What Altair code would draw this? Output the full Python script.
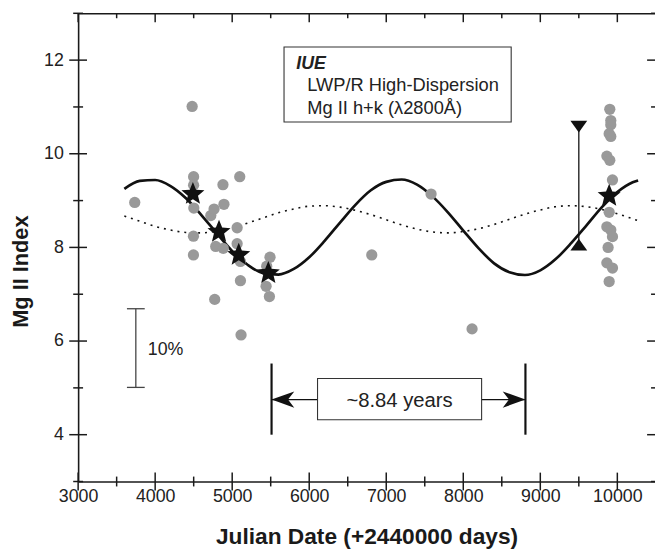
import altair as alt
import pandas as pd

FONT = "Liberation Sans"

# ---- observations (grey dots) ----
obs_day = [3735, 4480, 4499, 4499, 4502, 4497, 4497, 4722, 4765, 4773, 4786, 4880, 4884, 4893,
           5064, 5064, 5098, 5107, 5107, 5115, 5491, 5448, 5440, 5483, 6812, 7582, 8114,
           9902, 9915, 9915, 9894, 9915, 9864, 9902, 9937, 9894, 9864, 9915, 9937, 9880,
           9864, 9937, 9894]
obs_idx = [8.96, 11.01, 9.51, 9.33, 8.84, 8.24, 7.84, 8.68, 8.82, 6.89, 8.02, 9.34, 7.98, 8.92,
           8.42, 8.08, 9.51, 7.70, 7.29, 6.13, 7.79, 7.60, 7.17, 6.95, 7.84, 9.14, 6.26,
           10.95, 10.71, 10.62, 10.43, 10.37, 9.95, 9.86, 9.44, 8.75, 8.44, 8.37, 8.23, 8.00,
           7.67, 7.56, 7.27]

# ---- seasonal means (stars) ----
star_day = [4490, 4829, 5085, 5469, 9894]
star_idx = [9.14, 8.33, 7.84, 7.45, 9.10]

# ---- curves ----
curve_day = [3600, 3800, 4000, 4200, 4400, 4600, 4800, 5000, 5200, 5400, 5600, 5800, 6000,
             6200, 6400, 6600, 6800, 7000, 7200, 7400, 7600, 7800, 8000, 8200, 8400, 8600,
             8800, 9000, 9200, 9400, 9600, 9800, 10000, 10200, 10270]
solid_idx = [9.25, 9.42, 9.44, 9.31, 9.05, 8.69, 8.30, 7.92, 7.63, 7.45, 7.42, 7.54, 7.79,
             8.14, 8.53, 8.91, 9.22, 9.40, 9.45, 9.34, 9.09, 8.75, 8.36, 7.98, 7.66, 7.47,
             7.41, 7.51, 7.75, 8.09, 8.47, 8.86, 9.18, 9.39, 9.43]
dotted_idx = [8.67, 8.56, 8.45, 8.37, 8.32, 8.31, 8.35, 8.42, 8.52, 8.63, 8.74, 8.82, 8.88,
              8.89, 8.86, 8.79, 8.70, 8.59, 8.48, 8.39, 8.33, 8.31, 8.34, 8.40, 8.49, 8.60,
              8.71, 8.80, 8.87, 8.89, 8.87, 8.81, 8.72, 8.61, 8.57]

# ---- range bar with triangles ----
range_day = [9500]
range_lo = [8.06]
range_hi = [10.58]

# ---- 10% scale bar ----
scale_day = [3749]
scale_lo = [5.01]
scale_hi = [6.69]
scale_text = ["10%"]
scale_text_day = [3905]
scale_text_idx = [5.70]

# ---- period annotation ----
period_day = [5511, 8807]
period_lo = [4.0, 4.0]
period_hi = [5.52, 5.52]
arrow_idx = [4.75]
pbox_day = [6108]
pbox_day2 = [8238]
pbox_lo = [4.32]
pbox_hi = [5.20]
ptext = ["~8.84 years"]
ptext_day = [7173]
ptext_idx = [4.60]

# ---- legend box ----
lbox_day = [5673]
lbox_day2 = [8622]
lbox_lo = [10.68]
lbox_hi = [12.28]
ltitle = ["IUE"]
ltitle_day = [5832]
ltitle_idx = [11.81]
llines = ["LWP/R High-Dispersion", "Mg II h+k (\u03bb2800\u00c5)"]
llines_day = [5975, 5975]
llines_idx = [11.34, 10.84]

# ---- axis ticks ----
x_major = [3000, 4000, 5000, 6000, 7000, 8000, 9000, 10000]
x_minor = [3500, 4500, 5500, 6500, 7500, 8500, 9500]
y_major = [4, 6, 8, 10, 12]
y_minor = [3, 5, 7, 9, 11, 13]

XDOM = [3000, 10489]
YDOM = [3, 13]
xs = alt.Scale(domain=XDOM, nice=False, zero=False)
ys = alt.Scale(domain=YDOM, nice=False, zero=False)
AX = "#1a1a1a"

base_ax = dict(domainColor=AX, domainWidth=1.6, grid=False,
               labelFont=FONT, labelColor="#222", labelFontSize=18, labelFlush=False,
               titleFont=FONT, titleColor="#1a1a1a", titleFontWeight="bold")

x_bottom_lab = alt.Axis(orient="bottom", values=x_major, format="d", ticks=False, tickSize=0,
                        labelPadding=6, domain=True, title="Julian Date (+2440000 days)",
                        titleY=63, titleBaseline="alphabetic", titleFontSize=23, **base_ax)
x_top_dom = alt.Axis(orient="top", ticks=False, labels=False, domain=True, title=None,
                     **base_ax)
y_left_lab = alt.Axis(orient="left", values=y_major, format="d", ticks=False, tickSize=0,
                      labelPadding=15, domain=True, title="Mg II Index",
                      titleAngle=270, titleX=-51, titleY=261, titleBaseline="alphabetic",
                      titleAlign="center", titleFontSize=22, **base_ax)


def X(field, axis=None):
    return alt.X(field, type="quantitative", scale=xs, axis=axis)


def Y(field, axis=None):
    return alt.Y(field, type="quantitative", scale=ys, axis=axis)


# tick strokes drawn as stroked symbols anchored on the axis values
V_CROSS = "M0,-1L0,1"
H_CROSS = "M-1,0L1,0"
V_DOWN = "M0,0L0,2"
H_LEFT = "M0,0L-2,0"


def tick_marks(xvals, yvals, shape, size):
    df = pd.DataFrame({"d": xvals, "v": yvals})
    return alt.Chart(df).mark_point(shape=shape, size=size, filled=False, strokeWidth=1.5,
                                    color=AX, opacity=1).encode(x=X("d"), y=Y("v"))


tick_layers = [
    tick_marks(x_major, [YDOM[0]] * len(x_major), V_CROSS, 324),
    tick_marks(x_minor, [YDOM[0]] * len(x_minor), V_CROSS, 100),
    tick_marks(x_major, [YDOM[1]] * len(x_major), V_DOWN, 81),
    tick_marks(x_minor, [YDOM[1]] * len(x_minor), V_DOWN, 25),
    tick_marks([XDOM[0]] * len(y_major), y_major, H_CROSS, 324),
    tick_marks([XDOM[0]] * len(y_minor), y_minor, H_CROSS, 100),
    tick_marks([XDOM[1]] * len(y_major), y_major, H_LEFT, 64),
    tick_marks([XDOM[1]] * len(y_minor), y_minor, H_LEFT, 16),
]

obs = pd.DataFrame({"d": obs_day, "v": obs_idx})
stars = pd.DataFrame({"d": star_day, "v": star_idx})
curves = pd.DataFrame({"d": curve_day, "s": solid_idx, "t": dotted_idx})

dotted = alt.Chart(curves).mark_line(color="#111", strokeWidth=1.6, strokeDash=[2, 5],
                                     interpolate="monotone").encode(
    x=X("d", x_bottom_lab), y=Y("t", y_left_lab))
solid = alt.Chart(curves).mark_line(color="#111", strokeWidth=2.7,
                                    interpolate="monotone").encode(
    x=X("d", x_top_dom), y=Y("s"))
dots = alt.Chart(obs).mark_circle(size=130, color="#999999", opacity=1).encode(
    x=X("d"), y=Y("v"))

STAR = ("M0,-1L0.26,-0.36L0.951,-0.309L0.42,0.137L0.588,0.809L0,0.44L-0.588,0.809"
        "L-0.42,0.137L-0.951,-0.309L-0.26,-0.36Z")
star_layer = alt.Chart(stars).mark_point(shape=STAR, filled=True, size=600, color="#111",
                                         opacity=1).encode(x=X("d"), y=Y("v"))

rng = pd.DataFrame({"d": range_day, "lo": range_lo, "hi": range_hi})
rng_line = alt.Chart(rng).mark_rule(color="#111", strokeWidth=1.3).encode(
    x=X("d"), y=Y("lo"), y2="hi")
tri_down = alt.Chart(rng).mark_point(shape="M-1,-0.7L1,-0.7L0,0.7Z", filled=True, size=289,
                                     color="#111", opacity=1).encode(x=X("d"), y=Y("hi"))
tri_up = alt.Chart(rng).mark_point(shape="M-1,0.7L1,0.7L0,-0.7Z", filled=True, size=289,
                                   color="#111", opacity=1).encode(x=X("d"), y=Y("lo"))

sc = pd.DataFrame({"d": scale_day, "lo": scale_lo, "hi": scale_hi})
sc_line = alt.Chart(sc).mark_rule(color="#444", strokeWidth=1.3).encode(
    x=X("d"), y=Y("lo"), y2="hi")
sc_cap_lo = alt.Chart(sc).mark_tick(orient="horizontal", size=18, thickness=1.3,
                                    color="#444", opacity=1).encode(x=X("d"), y=Y("lo"))
sc_cap_hi = alt.Chart(sc).mark_tick(orient="horizontal", size=18, thickness=1.3,
                                    color="#444", opacity=1).encode(x=X("d"), y=Y("hi"))
sc_text = alt.Chart(pd.DataFrame({"d": scale_text_day, "v": scale_text_idx, "t": scale_text})
                    ).mark_text(align="left", baseline="alphabetic", font=FONT, fontSize=18,
                                color="#222").encode(x=X("d"), y=Y("v"), text="t:N")

per = pd.DataFrame({"d": period_day, "lo": period_lo, "hi": period_hi})
per_lines = alt.Chart(per).mark_rule(color="#111", strokeWidth=2.2).encode(
    x=X("d"), y=Y("lo"), y2="hi")
arr = pd.DataFrame({"d": [period_day[0]], "d2": [period_day[1]], "v": arrow_idx})
arr_line = alt.Chart(arr).mark_rule(color="#111", strokeWidth=1.4).encode(
    x=X("d"), x2="d2", y=Y("v"))
arr_left = alt.Chart(arr).mark_point(shape="M0,0L2,-0.72L1.45,0L2,0.72Z", filled=True,
                                     size=529, color="#111", opacity=1).encode(
    x=X("d"), y=Y("v"))
arr_right = alt.Chart(arr).mark_point(shape="M0,0L-2,-0.72L-1.45,0L-2,0.72Z", filled=True,
                                      size=529, color="#111", opacity=1).encode(
    x=X("d2"), y=Y("v"))
pbox = alt.Chart(pd.DataFrame({"d": pbox_day, "d2": pbox_day2, "lo": pbox_lo, "hi": pbox_hi})
                 ).mark_rect(fill="white", stroke="#333", strokeWidth=1.1).encode(
    x=X("d"), x2="d2", y=Y("lo"), y2="hi")
ptxt = alt.Chart(pd.DataFrame({"d": ptext_day, "v": ptext_idx, "t": ptext})).mark_text(
    align="center", baseline="alphabetic", font=FONT, fontSize=20.5, color="#222").encode(
    x=X("d"), y=Y("v"), text="t:N")

lbox = alt.Chart(pd.DataFrame({"d": lbox_day, "d2": lbox_day2, "lo": lbox_lo, "hi": lbox_hi})
                 ).mark_rect(fill="white", stroke="#333", strokeWidth=1.1).encode(
    x=X("d"), x2="d2", y=Y("lo"), y2="hi")
ltit = alt.Chart(pd.DataFrame({"d": ltitle_day, "v": ltitle_idx, "t": ltitle})).mark_text(
    align="left", baseline="alphabetic", font=FONT, fontSize=18, fontWeight="bold",
    fontStyle="italic", color="#222").encode(x=X("d"), y=Y("v"), text="t:N")
llin = alt.Chart(pd.DataFrame({"d": llines_day, "v": llines_idx, "t": llines})).mark_text(
    align="left", baseline="alphabetic", font=FONT, fontSize=18.5, color="#222").encode(
    x=X("d"), y=Y("v"), text="t:N")

chart = alt.layer(
    dotted, solid, dots, star_layer, rng_line, tri_down, tri_up,
    sc_line, sc_cap_lo, sc_cap_hi, sc_text,
    arr_line, per_lines, arr_left, arr_right, pbox, ptxt,
    lbox, ltit, llin, *tick_layers,
).resolve_axis(x="independent", y="independent").properties(
    width=584, height=474,
    autosize=alt.AutoSizeParams(type="none"),
    padding={"left": 71, "top": 2, "right": 0, "bottom": 69},
    background="white",
).configure_view(stroke=None)

chart.save("out.html", embed_options={"renderer": "svg", "actions": False})
